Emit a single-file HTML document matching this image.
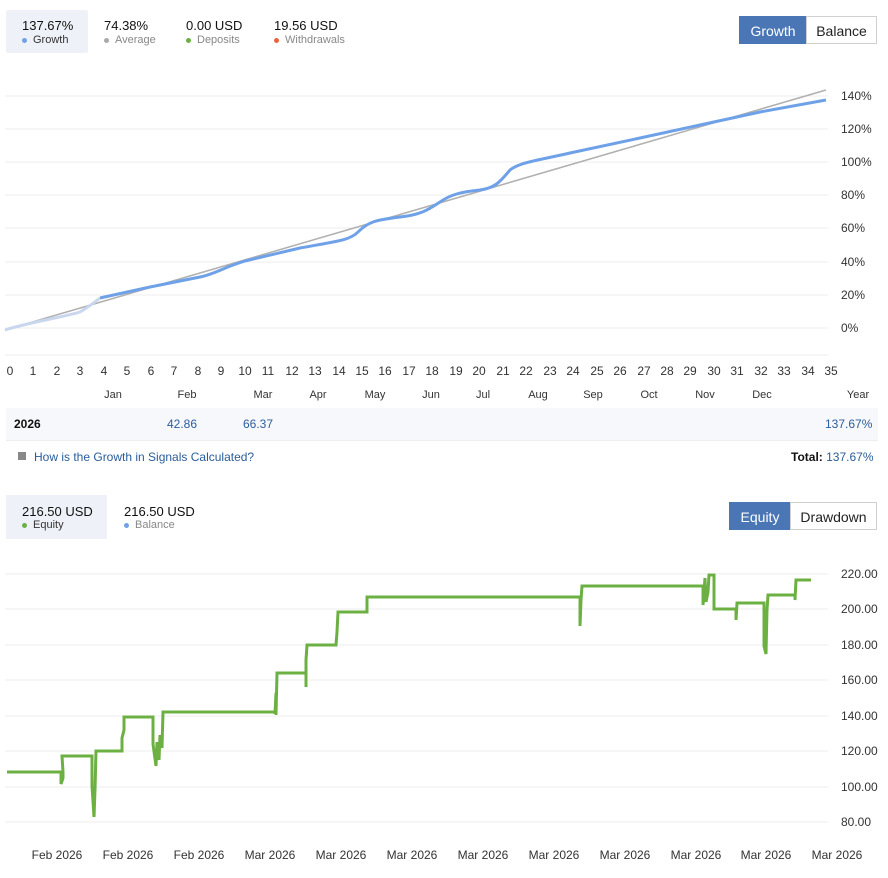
<!DOCTYPE html>
<html><head><meta charset="utf-8"><style>
body{margin:0;width:888px;height:878px;background:#fff;font-family:"Liberation Sans",sans-serif;position:relative;overflow:hidden}
.a{position:absolute;white-space:nowrap}
.v{font-size:13px;color:#111}
.l{font-size:11px;color:#888}
.dot{display:inline-block;width:5px;height:5px;border-radius:50%;margin-right:6px;vertical-align:middle}
.btn{position:absolute;height:28px;line-height:28px;font-size:14px;text-align:center;border:1px solid #d0d0d0;box-sizing:border-box}
</style></head><body>
<div class="a" style="left:6px;top:10px;width:82px;height:43px;background:#eef2f8;border-radius:2px"></div>
<div class="a v" style="left:22px;top:18px">137.67%</div><div class="a l" style="left:22px;top:34px;color:#333"><span class="dot" style="background:#6ea1e8"></span>Growth</div>
<div class="a v" style="left:104px;top:18px">74.38%</div><div class="a l" style="left:104px;top:34px"><span class="dot" style="background:#aaa"></span>Average</div>
<div class="a v" style="left:186px;top:18px">0.00 USD</div><div class="a l" style="left:186px;top:34px"><span class="dot" style="background:#6cb043"></span>Deposits</div>
<div class="a v" style="left:274px;top:18px">19.56 USD</div><div class="a l" style="left:274px;top:34px"><span class="dot" style="background:#e8643c"></span>Withdrawals</div>
<div class="btn" style="left:739px;top:16px;width:68px;background:#4a76b5;color:#fff;border-color:#4a76b5">Growth</div>
<div class="btn" style="left:806px;top:16px;width:71px;color:#222">Balance</div>
<svg class="a" style="left:0;top:0" width="888" height="878">
<g stroke="#ececec" stroke-width="1">
<line x1="5" x2="828" y1="96" y2="96"/><line x1="5" x2="828" y1="129" y2="129"/><line x1="5" x2="828" y1="162" y2="162"/><line x1="5" x2="828" y1="195" y2="195"/><line x1="5" x2="828" y1="228" y2="228"/><line x1="5" x2="828" y1="262" y2="262"/><line x1="5" x2="828" y1="295" y2="295"/><line x1="5" x2="828" y1="328" y2="328"/><line x1="5" x2="828" y1="355" y2="355"/>
<line x1="5" x2="828" y1="574" y2="574"/><line x1="5" x2="828" y1="609" y2="609"/><line x1="5" x2="828" y1="645" y2="645"/><line x1="5" x2="828" y1="680" y2="680"/><line x1="5" x2="828" y1="716" y2="716"/><line x1="5" x2="828" y1="751" y2="751"/><line x1="5" x2="828" y1="787" y2="787"/><line x1="5" x2="828" y1="822" y2="822"/>
</g>
<line x1="5" y1="330" x2="826" y2="90" stroke="#b0b0b0" stroke-width="1.5"/>
<path d="M5,330 C30,322 60,318 80,312 C90,306 95,302 100,298" fill="none" stroke="#c8d6ee" stroke-width="3"/>
<path d="M100,298 L150,287 L200,277 C215,274 222,268 245,261 L300,248 C340,241 350,240 358,232 C368,222 375,220 400,217 C420,215 428,210 440,202 C450,195 460,192 480,190 C495,188 500,182 510,170 C520,162 540,160 570,153 L640,138 L700,125 L760,112 L826,100" fill="none" stroke="#6ea1e8" stroke-width="3" stroke-linejoin="round"/>
<path d="M7,772 L61,772 L61,784 L63,778 L63,772 L62,756 L92,756 L92,786 L94,817 L95,790 L96,751 L122,751 L122,738 L124,730 L124,717 L153,717 L153,744 L156,766 L157,742 L159,760 L160,735 L162,748 L163,712 L275,712 L275,714 L276,693 L276,715 L277,673 L306,673 L306,687 L306,660 L307,645 L336,645 L337,632 L338,612 L367,612 L367,597 L580,597 L580,626 L581,600 L582,586 L703,586 L703,605 L705,578 L706,602 L708,592 L709,575 L714,575 L714,609 L736,609 L736,620 L737,603 L764,603 L764,646 L766,654 L767,610 L768,595 L795,595 L795,600 L796,580 L811,580" fill="none" stroke="#6cb043" stroke-width="3" stroke-linejoin="miter"/>
<g font-size="12" fill="#333" text-anchor="start">
<text x="841" y="100">140%</text><text x="841" y="133">120%</text><text x="841" y="166">100%</text><text x="841" y="199">80%</text><text x="841" y="232">60%</text><text x="841" y="266">40%</text><text x="841" y="299">20%</text><text x="841" y="332">0%</text>
<text x="841" y="578">220.00</text><text x="841" y="613">200.00</text><text x="841" y="649">180.00</text><text x="841" y="684">160.00</text><text x="841" y="720">140.00</text><text x="841" y="755">120.00</text><text x="841" y="791">100.00</text><text x="841" y="826">80.00</text>
</g>
<g font-size="12" fill="#333" text-anchor="middle">
<text x="10" y="375">0</text><text x="33" y="375">1</text><text x="57" y="375">2</text><text x="80" y="375">3</text><text x="104" y="375">4</text><text x="127" y="375">5</text><text x="151" y="375">6</text><text x="174" y="375">7</text><text x="198" y="375">8</text><text x="221" y="375">9</text><text x="245" y="375">10</text><text x="268" y="375">11</text><text x="292" y="375">12</text><text x="315" y="375">13</text><text x="339" y="375">14</text><text x="362" y="375">15</text><text x="385" y="375">16</text><text x="409" y="375">17</text><text x="432" y="375">18</text><text x="456" y="375">19</text><text x="479" y="375">20</text><text x="503" y="375">21</text><text x="526" y="375">22</text><text x="550" y="375">23</text><text x="573" y="375">24</text><text x="597" y="375">25</text><text x="620" y="375">26</text><text x="644" y="375">27</text><text x="667" y="375">28</text><text x="690" y="375">29</text><text x="714" y="375">30</text><text x="737" y="375">31</text><text x="761" y="375">32</text><text x="784" y="375">33</text><text x="808" y="375">34</text><text x="831" y="375">35</text>
<g font-size="11"><text x="113" y="398">Jan</text><text x="187" y="398">Feb</text><text x="263" y="398">Mar</text><text x="318" y="398">Apr</text><text x="375" y="398">May</text><text x="431" y="398">Jun</text><text x="483" y="398">Jul</text><text x="538" y="398">Aug</text><text x="593" y="398">Sep</text><text x="649" y="398">Oct</text><text x="705" y="398">Nov</text><text x="762" y="398">Dec</text><text x="858" y="398">Year</text></g>
<text x="57" y="859">Feb 2026</text><text x="128" y="859">Feb 2026</text><text x="199" y="859">Feb 2026</text><text x="270" y="859">Mar 2026</text><text x="341" y="859">Mar 2026</text><text x="412" y="859">Mar 2026</text><text x="483" y="859">Mar 2026</text><text x="554" y="859">Mar 2026</text><text x="625" y="859">Mar 2026</text><text x="696" y="859">Mar 2026</text><text x="766" y="859">Mar 2026</text><text x="837" y="859">Mar 2026</text>
</g>
</svg>
<div class="a" style="left:6px;top:408px;width:872px;height:32px;background:#f7f8fc;border-bottom:1px solid #eee"></div>
<div class="a" style="left:14px;top:417px;font-size:12px;font-weight:bold;color:#111">2026</div>
<div class="a" style="left:167px;top:417px;font-size:12px;color:#2a5d9a">42.86</div>
<div class="a" style="left:243px;top:417px;font-size:12px;color:#2a5d9a">66.37</div>
<div class="a" style="left:825px;top:417px;font-size:12px;color:#2a5d9a">137.67%</div>
<div class="a" style="left:18px;top:452px;width:8px;height:8px;background:#888"></div>
<div class="a" style="left:34px;top:450px;font-size:12px;color:#2a5d9a">How is the Growth in Signals Calculated?</div>
<div class="a" style="left:791px;top:450px;font-size:12px;color:#2a5d9a"><b style="color:#111">Total:</b> 137.67%</div>
<div class="a" style="left:6px;top:495px;width:101px;height:44px;background:#eef2f8"></div>
<div class="a v" style="left:22px;top:504px">216.50 USD</div><div class="a l" style="left:22px;top:519px;color:#333"><span class="dot" style="background:#6cb043"></span>Equity</div>
<div class="a v" style="left:124px;top:504px">216.50 USD</div><div class="a l" style="left:124px;top:519px"><span class="dot" style="background:#6ea1e8"></span>Balance</div>
<div class="btn" style="left:729px;top:502px;width:62px;background:#4a76b5;color:#fff;border-color:#4a76b5">Equity</div>
<div class="btn" style="left:790px;top:502px;width:87px;color:#222">Drawdown</div>
</body></html>
